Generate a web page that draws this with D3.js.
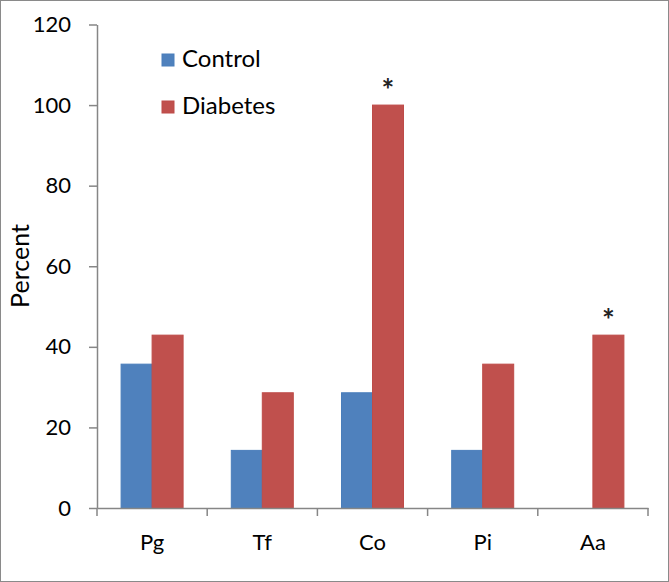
<!DOCTYPE html>
<html>
<head>
<meta charset="utf-8">
<script src="https://cdn.jsdelivr.net/npm/d3@7"></script>
<style>
html,body{margin:0;padding:0;background:#fff;}
svg{display:block;font-family:Lato,"Open Sans",sans-serif;}
</style>
</head>
<body>
<svg id="chart" width="669" height="582"></svg>
<script>
const categories = ["Pg", "Tf", "Co", "Pi", "Aa"];
const seriesNames = ["Control", "Diabetes"];
const control = [35.7, 14.3, 28.6, 14.3, 0];
const diabetes = [42.9, 28.6, 100, 35.7, 42.9];
const significant = ["Co", "Aa"];
const yTicks = [0, 20, 40, 60, 80, 100, 120];
const colors = ["#4F81BD", "#C0504D"];
const strokes = ["#4A7EBB", "#BE4B48"];

(function(){
const svg = d3.select("#chart");
const W = 669, H = 582;
const mLeft = 97, mRight = 648, mTop = 24.5, mBottom = 508;

svg.append("rect").attr("x",0.5).attr("y",0.5).attr("width",W-1).attr("height",H-1)
  .attr("fill","#fff").attr("stroke","#8a8a8a").attr("stroke-width",1);

const x = d3.scaleBand().domain(categories).range([mLeft, mRight]).paddingInner(0).paddingOuter(0);
const y = d3.scaleLinear().domain([0, 120]).range([mBottom, mTop]);
const groupW = 62;
const xs = d3.scaleBand().domain(seriesNames).range([0, groupW]);

const series = [control, diabetes];
series.forEach((vals, si) => {
  svg.append("g").selectAll("rect").data(categories.map((c,i)=>({c, v: vals[i]})).filter(d=>d.v>0))
    .join("rect")
    .attr("x", d => x(d.c) + (x.bandwidth()-groupW)/2 + xs(seriesNames[si]))
    .attr("y", d => y(d.v))
    .attr("width", xs.bandwidth())
    .attr("height", d => y(0) - y(d.v))
    .attr("fill", colors[si])
    .attr("stroke", strokes[si])
    .attr("stroke-width", 1);
});

svg.append("g").selectAll("text").data(significant).join("text")
  .attr("x", c => x(c) + (x.bandwidth()-groupW)/2 + xs("Diabetes") + xs.bandwidth()/2)
  .attr("y", c => y(diabetes[categories.indexOf(c)]) - 4)
  .attr("text-anchor","middle")
  .attr("font-size", 30).attr("font-weight","bold").attr("fill","#222")
  .text("*");

const yAxis = svg.append("g").attr("transform", `translate(${mLeft},0)`)
  .call(d3.axisLeft(y).tickValues(yTicks).tickSize(8).tickSizeOuter(0).tickPadding(18));
yAxis.select(".domain").attr("stroke","#868686").attr("stroke-width",1.5);
yAxis.selectAll(".tick line").attr("stroke","#868686").attr("stroke-width",1.5);
yAxis.selectAll(".tick text").attr("font-size",22).attr("fill","#000").attr("font-family","Lato");

const xAxis = svg.append("g").attr("transform", `translate(0,${mBottom})`)
  .call(d3.axisBottom(x).tickSize(0).tickPadding(26));
xAxis.select(".domain").attr("stroke","#868686").attr("stroke-width",1.5);
xAxis.selectAll(".tick text").attr("font-size",22).attr("fill","#000").attr("font-family","Lato");
const bounds = categories.map(c => x(c)).concat([mRight]);
svg.append("g").selectAll("line").data(bounds).join("line")
  .attr("x1", d=>d).attr("x2", d=>d).attr("y1", mBottom).attr("y2", mBottom+8)
  .attr("stroke","#868686").attr("stroke-width",1.5);

svg.append("text").attr("transform","translate(29,266) rotate(-90)")
  .attr("text-anchor","middle").attr("font-size",25).attr("fill","#000")
  .text("Percent");

const leg = svg.append("g");
seriesNames.forEach((n,i) => {
  const ly = 54 + i*47;
  leg.append("rect").attr("x",162).attr("y",ly).attr("width",12).attr("height",12)
    .attr("fill",colors[i]).attr("stroke",strokes[i]);
  leg.append("text").attr("x",182).attr("y",ly+13).attr("font-size",24).attr("fill","#000").text(n);
});
})();
</script>
</body>
</html>
